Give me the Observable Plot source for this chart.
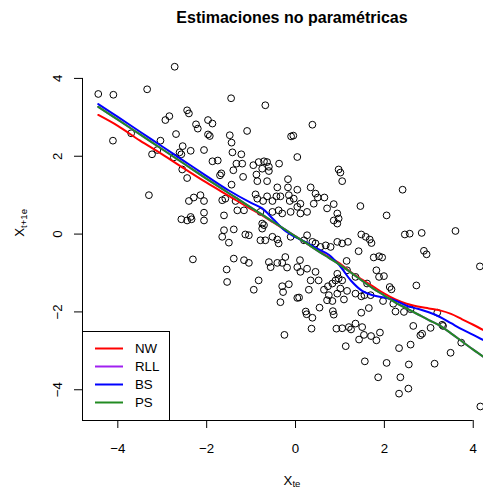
<!DOCTYPE html>
<html><head><meta charset="utf-8">
<script src="https://cdn.jsdelivr.net/npm/d3@7"></script>
<script src="https://cdn.jsdelivr.net/npm/@observablehq/plot@0.6"></script>
<style>
html,body{margin:0;padding:0;background:#fff;overflow:hidden;}
</style></head><body><div id="chart"></div>
<script>
const title = "Estimaciones no paramétricas";
const xLabel = "X_te";
const yLabel = "X_t+1e";
const xTicks = [-4, -2, 0, 2, 4];
const yTicks = [-4, -2, 0, 2, 4];
const seriesNames = ["NW", "RLL", "BS", "PS"];
const seriesColors = ["#ff0000", "#a020f0", "#0000ff", "#228b22"];

// observed pairs (x_t, x_t+1)
const pointsXY = [
[-2.72,4.30],[-4.44,3.60],[-4.10,3.58],[-3.34,3.72],[-4.11,2.40],[-3.70,2.59],[-3.04,2.40],[-3.23,2.05],
[-3.11,2.16],[-2.93,2.93],[-2.84,3.03],[-2.44,3.18],[-2.40,3.10],[-2.24,2.82],[-2.20,2.71],[-2.69,2.57],
[-2.54,2.26],[-2.61,2.10],[-2.57,2.05],[-2.36,2.14],[-2.06,2.16],[-2.74,1.97],[-2.55,1.66],[-2.44,1.44],
[-1.45,3.49],[-0.68,3.31],[0.38,2.81],[-1.97,2.93],[-1.87,2.84],[-1.97,2.56],[-1.93,2.52],[-1.48,2.54],
[-1.44,2.35],[-1.09,2.65],[-1.42,2.10],[-1.22,2.05],[-1.87,1.87],[-1.75,1.89],[-1.33,1.81],[-1.20,1.81],
[-1.40,1.64],[-0.95,1.77],[-0.83,1.85],[-0.71,1.87],[-0.64,1.85],[-0.60,1.73],[-0.60,1.62],[-0.75,1.68],
[-0.37,1.81],[0.04,1.98],[-0.10,2.51],[-0.05,2.53],[-1.67,1.56],[-1.70,1.51],[-1.18,1.47],[-0.88,1.53],
[-0.86,1.36],[-0.64,1.36],[-0.17,1.41],[-1.44,1.27],[0.97,1.66],[1.01,1.58],[1.05,1.36],
[-3.30,1.00],[-2.40,0.85],[-2.29,0.94],[-2.14,1.00],[-2.06,0.85],[-2.57,0.38],[-2.44,0.35],[-2.36,0.44],
[-2.34,0.38],[-2.06,0.55],[-2.06,0.35],[-2.31,-0.65],
[-0.41,1.20],[-0.17,1.20],[0.04,1.14],[0.34,1.20],[-1.65,0.87],[-1.58,0.91],[-1.35,0.85],[-0.90,1.02],
[-0.86,0.91],[-0.73,0.85],[-0.64,0.97],[-0.52,0.85],[-0.43,0.97],[-0.34,0.97],[-0.15,1.00],[-0.13,0.85],
[-0.04,0.91],[0.11,0.78],[0.45,1.04],[0.50,0.94],[0.65,0.94],[0.41,0.78],[0.86,0.77],[-1.61,0.48],
[-1.31,0.61],[-1.16,0.61],[-0.79,0.57],[-0.52,0.57],[-0.38,0.61],[-0.30,0.53],[-0.11,0.57],[0.04,0.70],
[0.11,0.53],[0.26,0.57],[0.71,0.66],[0.94,0.53],[0.97,0.40],[0.94,0.27],[0.86,0.35],[-0.75,0.27],
[-0.71,0.23],[-0.75,0.14],[-1.61,0.10],[-1.39,0.12],[-1.65,-0.07],[-1.13,-0.01],[-1.05,-0.03],[-1.50,-0.22],
[-0.79,-0.16],[-0.68,-0.16],[-0.52,-0.07],[-0.41,-0.14],[-0.38,-0.24],[-0.11,-0.07],[0.26,-0.03],[0.19,-0.16],
[0.38,-0.20],[0.45,-0.24],[0.56,-0.33],[0.68,-0.29],[0.79,-0.33],[0.94,-0.20],[-1.39,-0.63],[-1.16,-0.67],
[-1.05,-0.74],[-0.60,-0.72],[-0.56,-0.85],[-0.41,-0.74],[-0.30,-0.74],[-0.23,-0.59],[-0.19,-0.86],[0.10,-0.67],
[0.04,-0.85],[0.11,-0.97],[0.26,-0.89],[0.34,-1.19],[0.45,-0.97],[0.52,-1.19],[-1.55,-0.91],[-1.54,-1.23],
[-0.83,-1.19],[-0.94,-1.43],[-0.30,-1.34],[-0.15,-1.29],[-0.28,-1.49],[-0.34,-1.75],[0.04,-1.64],[0.08,-1.63],
[0.30,-1.43],[0.64,-1.43],[0.73,-1.34],[0.83,-1.27],[0.90,-1.19],[0.97,-1.14],[0.75,-1.57],[0.71,-1.70],
[0.83,-1.72],[0.94,-1.53],[1.01,-1.40],[0.94,-1.02],[1.05,-1.19],
[2.41,1.14],[1.46,0.72],[2.05,0.48],[3.60,0.08],[2.46,-0.01],[2.57,0.01],[2.84,0.03],[1.48,-0.01],
[1.58,-0.07],[1.67,-0.14],[1.71,-0.23],[1.05,-0.24],[1.18,-0.20],[1.42,-0.44],[2.89,-0.43],[2.95,-0.52],
[1.76,-0.60],[1.88,-0.57],[1.95,-0.60],[1.15,-0.69],[1.82,-0.93],[1.88,-1.10],[1.99,-1.08],[4.15,-0.83],
[2.72,-1.32],[2.12,-1.36],[2.16,-1.42],[1.16,-0.93],[1.35,-1.10],[1.61,-1.27],[1.16,-1.46],[1.35,-1.53],
[1.48,-1.60],[1.55,-1.57],[1.69,-1.57],[1.97,-1.72],[2.20,-1.79],[1.09,-1.68],[1.65,-1.90],
[1.48,-2.02],[2.25,-1.99],[2.44,-2.00],[2.59,-1.93],[3.19,-2.02],[3.30,-2.33],[3.32,-2.36],[1.05,-2.42],
[1.20,-2.39],[1.25,-2.45],[1.35,-2.30],[1.50,-2.39],[1.54,-2.59],[1.70,-2.62],[1.82,-2.73],[1.90,-2.53],
[1.43,-2.71],[1.13,-2.88],[2.65,-2.36],[3.04,-2.41],[2.81,-2.60],[2.85,-2.56],[2.59,-2.84],[2.33,-2.93],
[3.73,-2.79],[3.49,-3.05],[1.56,-3.27],[2.05,-3.31],[2.55,-3.35],[3.13,-3.33],[1.86,-3.68],[2.36,-3.68],
[2.54,-3.97],[2.33,-4.10],[4.16,-4.43],
[0.23,-1.99],[0.25,-2.06],[0.38,-2.15],[0.54,-1.89],[0.84,-1.98],[0.86,-2.07],[0.36,-2.43],[0.92,-2.43],
[-0.25,-2.59]
];

// estimated curves on a common grid
const curveX = [-4.44,-4.0,-3.5,-3.0,-2.5,-2.0,-1.5,-1.0,-0.75,-0.5,-0.25,0,0.25,0.5,0.75,1.0,1.25,1.5,1.75,2.0,2.25,2.5,2.75,3.0,3.25,3.5,3.75,4.0,4.3];
const nwY  = [3.06,2.78,2.40,2.05,1.68,1.32,0.98,0.64,0.48,0.30,0.12,-0.06,-0.24,-0.42,-0.59,-0.76,-0.98,-1.17,-1.35,-1.53,-1.68,-1.79,-1.86,-1.91,-1.96,-2.05,-2.19,-2.33,-2.51];
const rllY = [3.27,2.94,2.56,2.18,1.80,1.42,1.05,0.68,0.50,0.31,0.13,-0.06,-0.24,-0.43,-0.61,-0.79,-0.99,-1.20,-1.40,-1.58,-1.76,-1.91,-2.06,-2.21,-2.35,-2.55,-2.76,-2.97,-3.21];
const bsY  = [3.34,3.01,2.63,2.25,1.87,1.49,1.12,0.80,0.66,0.38,0.10,-0.08,-0.22,-0.38,-0.53,-0.82,-1.20,-1.46,-1.58,-1.63,-1.71,-1.84,-1.92,-2.01,-2.13,-2.29,-2.45,-2.59,-2.77];
const psY  = [3.27,2.94,2.56,2.18,1.80,1.42,1.05,0.68,0.50,0.31,0.13,-0.06,-0.24,-0.43,-0.61,-0.79,-0.99,-1.20,-1.40,-1.58,-1.76,-1.91,-2.06,-2.21,-2.35,-2.55,-2.76,-2.97,-3.21];
const seriesY = [nwY, rllY, bsY, psY];

const xDomain = [-4.795, 4.231];
const yDomain = [-4.79, 4.64];
const xCenter = -0.08;
const yCenter = -0.07;

const points = pointsXY.map(([x, y]) => ({x, y}));
const curves = seriesNames.flatMap((s, k) => curveX.map((x, i) => ({series: s, x, y: seriesY[k][i]})));
const fmt = d => d < 0 ? "\u2212" + Math.abs(d) : String(d);
const font = "'Liberation Sans', Arial, Helvetica, sans-serif";

const plot = Plot.plot({
  width: 483, height: 488,
  marginLeft: 82, marginRight: 0, marginTop: 53, marginBottom: 68,
  x: {domain: xDomain, label: null},
  y: {domain: yDomain, label: null},
  color: {domain: seriesNames, range: seriesColors},
  style: {fontFamily: font, fontSize: "13.3px", background: "white", color: "black"},
  marks: [
    Plot.dot(points, {x: "x", y: "y", r: 3.4, stroke: "black", strokeWidth: 1, fill: "none", clip: true}),
    Plot.line(curves, {x: "x", y: "y", z: "series", stroke: "series", strokeWidth: 2, curve: "catmull-rom", clip: true}),
    Plot.ruleX([xDomain[0]], {y1: yTicks[0], y2: yTicks[yTicks.length - 1], stroke: "black"}),
    Plot.ruleY([yDomain[0]], {x1: xTicks[0], x2: xTicks[xTicks.length - 1], stroke: "black"}),
    Plot.axisX({ticks: xTicks, tickSize: 8, tickPadding: 14.7, tickFormat: fmt, label: null, fontSize: 13.3}),
    Plot.axisY({ticks: yTicks, tickSize: 8, tickFormat: () => "", label: null}),
    Plot.text(yTicks, {y: d => d, text: fmt, frameAnchor: "left", dx: -21, rotate: -90, lineAnchor: "bottom", textAnchor: "middle", fontSize: 13.3}),
    Plot.text([title], {x: xCenter, frameAnchor: "top", dy: -30.3, lineAnchor: "bottom", fontWeight: "bold", fontSize: 16, fill: "black"}),
    Plot.text([xLabel], {x: xCenter, frameAnchor: "bottom", dy: 64, lineAnchor: "bottom", fontSize: 13.3, fill: "black"}),
    Plot.text([yLabel], {y: yCenter, frameAnchor: "left", dx: -58.7, rotate: -90, lineAnchor: "bottom", fontSize: 13.3, fill: "black"})
  ]
});

// subscripts for axis labels
const ns = "http://www.w3.org/2000/svg";
plot.querySelectorAll("text").forEach(t => {
  const s = t.textContent;
  if (s.includes("_")) {
    const [main, sub] = s.split("_");
    t.textContent = "";
    const a = document.createElementNS(ns, "tspan"); a.textContent = main;
    const b = document.createElementNS(ns, "tspan"); b.textContent = sub;
    b.setAttribute("font-size", "0.72em"); b.setAttribute("dy", "0.3em");
    t.append(a, b);
  }
});

// legend (bottom-left of the plotting region)
const sx = plot.scale("x"), sy = plot.scale("y");
const left = sx.apply(xDomain[0]), bottom = sy.apply(yDomain[0]);
const boxW = 87, boxH = 89, rowH = 18;
const g = d3.select(plot).append("g").attr("font-family", font).attr("font-size", 13.3).attr("text-anchor", "start");
g.append("rect").attr("x", left + 0.5).attr("y", bottom - boxH + 0.5).attr("width", boxW).attr("height", boxH)
  .attr("fill", "white").attr("stroke", "black");
seriesNames.forEach((name, i) => {
  const cy = bottom - boxH + 17.5 + i * rowH;
  g.append("line").attr("x1", left + 13).attr("x2", left + 41).attr("y1", cy).attr("y2", cy)
    .attr("stroke", seriesColors[i]).attr("stroke-width", 2);
  g.append("text").attr("x", left + 53).attr("y", cy).attr("dy", "0.35em").attr("text-anchor", "start").attr("fill", "black").text(name);
});

document.getElementById("chart").append(plot);
</script></body></html>
